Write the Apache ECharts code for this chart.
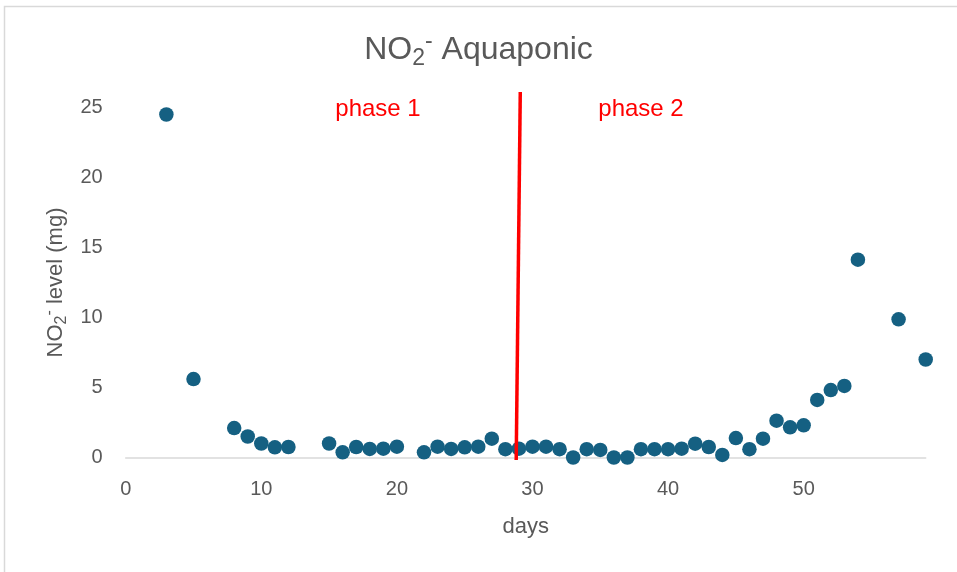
<!DOCTYPE html>
<html>
<head>
<meta charset="utf-8">
<script src="https://cdn.jsdelivr.net/npm/echarts@6/dist/echarts.min.js"></script>
<style>
    html, body { margin: 0; padding: 0; background: #fff; }
    #chart { width: 957px; height: 572px; }
</style>
</head>
<body>
<div id="chart"></div>
<script>
    // 数据
    const days = [3, 5, 8, 9, 10, 11, 12, 15, 16, 17, 18, 19, 20, 22, 23, 24, 25, 26, 27, 28, 29,
        30, 31, 32, 33, 34, 35, 36, 37, 38, 39, 40, 41, 42, 43, 44, 45, 46, 47, 48, 49, 50,
        51, 52, 53, 54, 57, 59];
    const no2Level = [24.5, 5.6, 2.1, 1.5, 1.0, 0.73, 0.75, 1.0, 0.37, 0.75, 0.61, 0.63, 0.77, 0.37, 0.77, 0.61, 0.73, 0.77, 1.34, 0.59, 0.63,
        0.77, 0.77, 0.59, 0, 0.59, 0.54, 0, 0, 0.59, 0.59, 0.59, 0.63, 0.99, 0.75, 0.18, 1.39, 0.59, 1.34, 2.63, 2.16, 2.3,
        4.11, 4.82, 5.11, 14.13, 9.87, 7.0];
    const xTicks = [0, 10, 20, 30, 40, 50];
    const yTicks = [0, 5, 10, 15, 20, 25];
    // 分隔线 (phase 1 / phase 2)
    const dividerX = [28.8, 29.1];
    const dividerY = [-0.18, 26.1];
    const phaseLabels = ['phase 1', 'phase 2'];

    const font = 'Liberation Sans, Arial, sans-serif';
    const textColor = '#595959';

    const points = days.map((d, i) => [d, no2Level[i]]);

    const config = {
        backgroundColor: '#fff',
        animation: false,
        title: {
            text: 'NO{sub|2}{sup|-} Aquaponic',
            left: 'center',
            top: 30,
            padding: 0,
            textStyle: {
                fontFamily: font,
                fontSize: 32,
                fontWeight: 'normal',
                color: textColor,
                lineHeight: 40,
                rich: {
                    sub: { fontFamily: font, fontSize: 23, color: textColor, lineHeight: 20, verticalAlign: 'bottom' },
                    sup: { fontFamily: font, fontSize: 23, color: textColor, lineHeight: 30, verticalAlign: 'top' }
                }
            }
        },
        grid: {
            left: 125.7,
            right: 31.3,
            top: 107.5,
            bottom: 114.5
        },
        xAxis: {
            type: 'value',
            min: 0,
            max: 59,
            interval: 10,
            name: 'days',
            nameLocation: 'middle',
            nameGap: 58,
            nameTextStyle: { fontFamily: font, fontSize: 22, color: textColor },
            axisLine: { show: true, lineStyle: { color: '#D9D9D9', width: 1.5 } },
            axisTick: { show: false },
            splitLine: { show: false },
            axisLabel: {
                fontFamily: font,
                fontSize: 20,
                color: textColor,
                margin: 22,
                showMaxLabel: false,
                formatter: v => xTicks.indexOf(v) >= 0 ? String(v) : ''
            }
        },
        yAxis: {
            type: 'value',
            min: 0,
            max: 25,
            interval: 5,
            name: 'NO{sub|2}{sup|-} level (mg)',
            nameLocation: 'middle',
            nameGap: 56,
            nameTextStyle: {
                fontFamily: font,
                fontSize: 22,
                color: textColor,
                lineHeight: 28,
                rich: {
                    sub: { fontFamily: font, fontSize: 16, color: textColor, lineHeight: 14, verticalAlign: 'bottom' },
                    sup: { fontFamily: font, fontSize: 16, color: textColor, lineHeight: 20, verticalAlign: 'top' }
                }
            },
            axisLine: { show: false },
            axisTick: { show: false },
            splitLine: { show: false },
            axisLabel: {
                fontFamily: font,
                fontSize: 20,
                color: textColor,
                margin: 23,
                formatter: v => yTicks.indexOf(v) >= 0 ? String(v) : ''
            }
        },
        graphic: [
            {
                type: 'rect',
                silent: true,
                shape: { x: 4.5, y: 6.5, width: 1000, height: 600 },
                style: { fill: 'none', stroke: '#D9D9D9', lineWidth: 1.5 }
            },
            {
                type: 'text',
                x: 378, y: 109,
                style: { text: phaseLabels[0], fill: '#FF0000', font: '24px ' + font, align: 'center', verticalAlign: 'middle' }
            },
            {
                type: 'text',
                x: 641, y: 109,
                style: { text: phaseLabels[1], fill: '#FF0000', font: '24px ' + font, align: 'center', verticalAlign: 'middle' }
            }
        ],
        series: [
            {
                name: 'NO2',
                type: 'scatter',
                symbol: 'circle',
                symbolSize: 14.5,
                itemStyle: { color: '#156082', opacity: 1 },
                data: points,
                z: 3
            },
            {
                name: 'divider',
                type: 'line',
                clip: false,
                symbol: 'none',
                lineStyle: { color: '#FF0000', width: 3.5 },
                data: [[dividerX[0], dividerY[0]], [dividerX[1], dividerY[1]]],
                z: 4
            }
        ]
    };

    echarts.init(document.getElementById('chart')).setOption(config);
</script>
</body>
</html>
